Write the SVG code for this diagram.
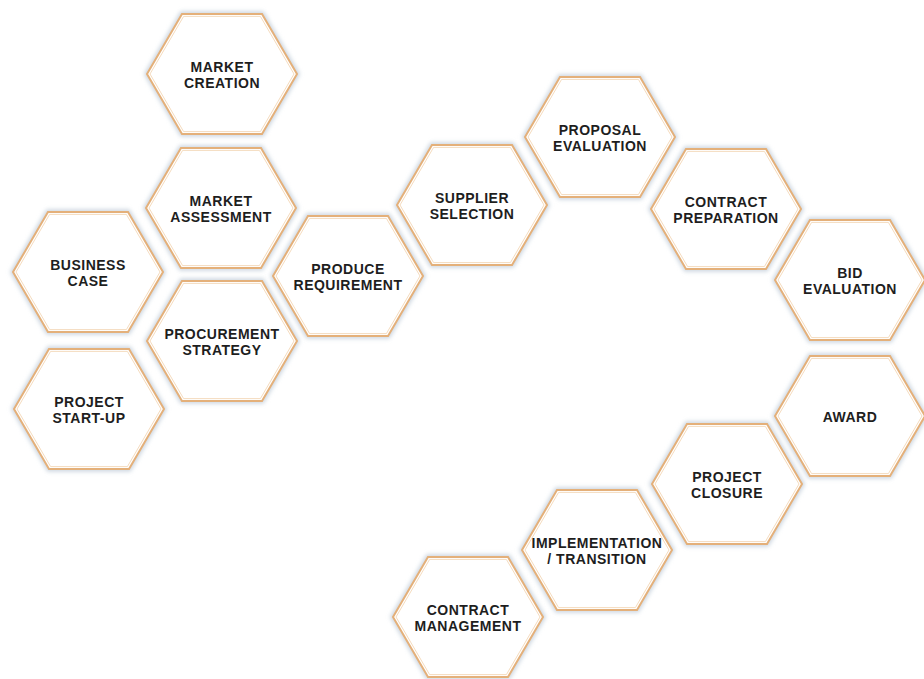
<svg xmlns="http://www.w3.org/2000/svg" xmlns:xlink="http://www.w3.org/1999/xlink" width="924" height="679" viewBox="0 0 924 679">
  <defs>
    <!-- flat-topped hexagon, 150 x 120, centred on the origin -->
    <polygon id="hex" points="-75,0 -40,-60 40,-60 75,0 40,60 -40,60"/>
    <filter id="halo" x="-20%" y="-20%" width="140%" height="140%">
      <feGaussianBlur stdDeviation="2.2"/>
    </filter>
  </defs>
  <style>
    .shade { fill: none; stroke: #c9d3de; stroke-width: 5; filter: url(#halo); }
    .cell { fill: #ffffff; stroke: #e4b07a; stroke-width: 2; }
    .inner { fill: none; stroke: #f3d9bb; stroke-width: 1; }
    .label { font-family: "Liberation Sans", Arial, sans-serif; font-weight: bold; font-size: 14px; letter-spacing: 0.5px; fill: #1e1e1e; text-anchor: middle; }
  </style>
  <rect width="924" height="679" fill="#ffffff"/>

  <g id="connectors"/>

  <g id="market-creation" transform="translate(222,74)">
    <use xlink:href="#hex" class="shade"/><use xlink:href="#hex" class="cell"/><use xlink:href="#hex" class="inner" transform="scale(0.96)"/>
    <text class="label" x="0" y="-2">MARKET</text><text class="label" x="0" y="14">CREATION</text>
  </g>

  <g id="market-assessment" transform="translate(221,208)">
    <use xlink:href="#hex" class="shade"/><use xlink:href="#hex" class="cell"/><use xlink:href="#hex" class="inner" transform="scale(0.96)"/>
    <text class="label" x="0" y="-2">MARKET</text><text class="label" x="0" y="14">ASSESSMENT</text>
  </g>

  <g id="business-case" transform="translate(88,272)">
    <use xlink:href="#hex" class="shade"/><use xlink:href="#hex" class="cell"/><use xlink:href="#hex" class="inner" transform="scale(0.96)"/>
    <text class="label" x="0" y="-2">BUSINESS</text><text class="label" x="0" y="14">CASE</text>
  </g>

  <g id="procurement-strategy" transform="translate(222,341)">
    <use xlink:href="#hex" class="shade"/><use xlink:href="#hex" class="cell"/><use xlink:href="#hex" class="inner" transform="scale(0.96)"/>
    <text class="label" x="0" y="-2">PROCUREMENT</text><text class="label" x="0" y="14">STRATEGY</text>
  </g>

  <g id="project-start-up" transform="translate(89,409)">
    <use xlink:href="#hex" class="shade"/><use xlink:href="#hex" class="cell"/><use xlink:href="#hex" class="inner" transform="scale(0.96)"/>
    <text class="label" x="0" y="-2">PROJECT</text><text class="label" x="0" y="14">START-UP</text>
  </g>

  <g id="produce-requirement" transform="translate(348,276)">
    <use xlink:href="#hex" class="shade"/><use xlink:href="#hex" class="cell"/><use xlink:href="#hex" class="inner" transform="scale(0.96)"/>
    <text class="label" x="0" y="-2">PRODUCE</text><text class="label" x="0" y="14">REQUIREMENT</text>
  </g>

  <g id="supplier-selection" transform="translate(472,205)">
    <use xlink:href="#hex" class="shade"/><use xlink:href="#hex" class="cell"/><use xlink:href="#hex" class="inner" transform="scale(0.96)"/>
    <text class="label" x="0" y="-2">SUPPLIER</text><text class="label" x="0" y="14">SELECTION</text>
  </g>

  <g id="proposal-evaluation" transform="translate(600,137)">
    <use xlink:href="#hex" class="shade"/><use xlink:href="#hex" class="cell"/><use xlink:href="#hex" class="inner" transform="scale(0.96)"/>
    <text class="label" x="0" y="-2">PROPOSAL</text><text class="label" x="0" y="14">EVALUATION</text>
  </g>

  <g id="contract-preparation" transform="translate(726,209)">
    <use xlink:href="#hex" class="shade"/><use xlink:href="#hex" class="cell"/><use xlink:href="#hex" class="inner" transform="scale(0.96)"/>
    <text class="label" x="0" y="-2">CONTRACT</text><text class="label" x="0" y="14">PREPARATION</text>
  </g>

  <g id="bid-evaluation" transform="translate(850,280)">
    <use xlink:href="#hex" class="shade"/><use xlink:href="#hex" class="cell"/><use xlink:href="#hex" class="inner" transform="scale(0.96)"/>
    <text class="label" x="0" y="-2">BID</text><text class="label" x="0" y="14">EVALUATION</text>
  </g>

  <g id="award" transform="translate(850,416)">
    <use xlink:href="#hex" class="shade"/><use xlink:href="#hex" class="cell"/><use xlink:href="#hex" class="inner" transform="scale(0.96)"/>
    <text class="label" x="0" y="6">AWARD</text>
  </g>

  <g id="project-closure" transform="translate(727,484)">
    <use xlink:href="#hex" class="shade"/><use xlink:href="#hex" class="cell"/><use xlink:href="#hex" class="inner" transform="scale(0.96)"/>
    <text class="label" x="0" y="-2">PROJECT</text><text class="label" x="0" y="14">CLOSURE</text>
  </g>

  <g id="implementation-transition" transform="translate(597,550)">
    <use xlink:href="#hex" class="shade"/><use xlink:href="#hex" class="cell"/><use xlink:href="#hex" class="inner" transform="scale(0.96)"/>
    <text class="label" x="0" y="-2">IMPLEMENTATION</text><text class="label" x="0" y="14">/ TRANSITION</text>
  </g>

  <g id="contract-management" transform="translate(468,617)">
    <use xlink:href="#hex" class="shade"/><use xlink:href="#hex" class="cell"/><use xlink:href="#hex" class="inner" transform="scale(0.96)"/>
    <text class="label" x="0" y="-2">CONTRACT</text><text class="label" x="0" y="14">MANAGEMENT</text>
  </g>
</svg>
